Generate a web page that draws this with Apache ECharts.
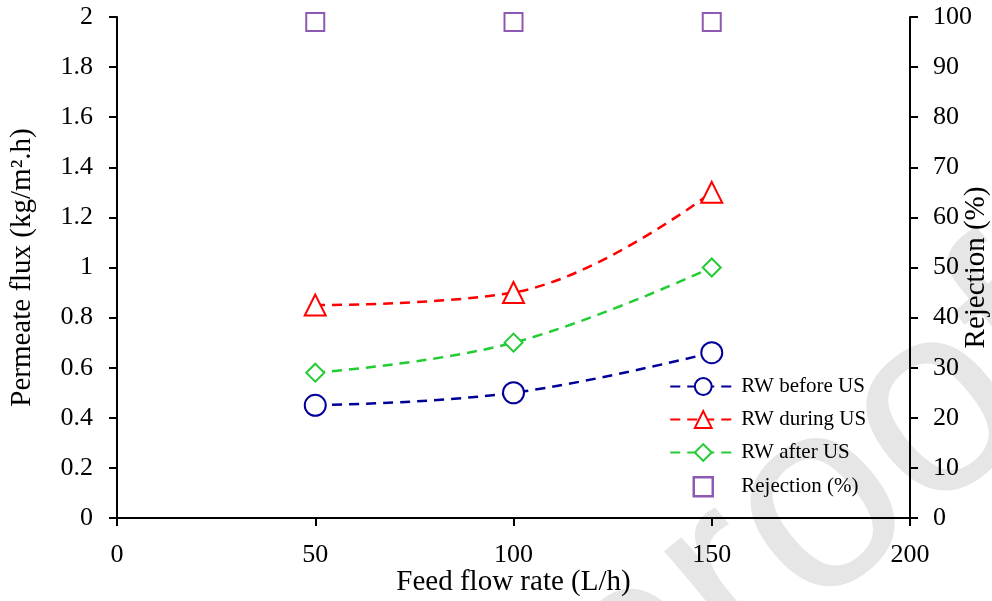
<!DOCTYPE html>
<html>
<head>
<meta charset="utf-8">
<script src="https://cdn.jsdelivr.net/npm/echarts@6/dist/echarts.min.js"></script>
<style>
  html, body { margin: 0; padding: 0; background: #ffffff; }
  #chart { width: 992px; height: 601px; }
</style>
</head>
<body>
<div id="chart"></div>
<script>
// feed flow rate (L/h)
const flowRates = [50, 100, 150];
// permeate flux (kg/m2.h)
const fluxBefore = [0.45, 0.50, 0.66];
const fluxDuring = [0.85, 0.90, 1.30];
const fluxAfter = [0.58, 0.70, 1.00];
// rejection (%)
const rejection = [99, 99, 99];

const serif = '"Liberation Serif", "Times New Roman", serif';

function toPoints(values) {
  return flowRates.map((x, i) => [x, values[i]]);
}

function fluxSeries(name, values, color, symbol, size) {
  return {
    name,
    type: 'line',
    data: toPoints(values),
    smooth: 0.4,
    symbol,
    symbolSize: size,
    showSymbol: true,
    lineStyle: { color, width: 2.5, type: [10, 7] },
    itemStyle: { color, borderColor: color, borderWidth: 2.5 },
    z: 3,
  };
}

const axisLine = { show: true, lineStyle: { color: '#000000', width: 2 } };
const axisTick = { show: true, inside: false, length: 8, lineStyle: { color: '#000000', width: 2 } };
const nameText = { fontFamily: serif, fontSize: 29, color: '#000000' };

const chart = echarts.init(document.getElementById('chart'), null, { renderer: 'canvas' });

chart.setOption({
  animation: false,
  backgroundColor: '#ffffff',
  graphic: [
    {
      type: 'text',
      x: 815,
      y: 515,
      rotation: Math.PI * 0.22,
      z: -10,
      silent: true,
      style: {
        text: 'proof',
        fill: '#e6e6e6',
        stroke: '#ffffff',
        lineWidth: 10,
        font: '270px "Liberation Sans", Arial, sans-serif',
        textAlign: 'center',
        textVerticalAlign: 'middle',
      },
    },
  ],
  grid: { left: 117, right: 82, top: 17, bottom: 83, outerBoundsMode: 'none' },
  legend: {
    orient: 'vertical',
    left: 664,
    top: 371,
    itemWidth: 66,
    itemHeight: 21,
    itemGap: 12,
    textStyle: { fontFamily: serif, fontSize: 21, lineHeight: 21, color: '#000000' },
    data: [
      'RW before US',
      'RW during US',
      'RW after US',
      {
        name: 'Rejection (%)',
        icon: 'path://M0,0L0,0M66,21L66,21M23.5,1L42.5,1L42.5,20L23.5,20Z',
        itemStyle: { color: '#ffffff', borderColor: '#7030a0', borderWidth: 2.5 },
      },
    ],
  },
  xAxis: {
    type: 'value',
    min: 0,
    max: 200,
    interval: 50,
    name: 'Feed flow rate (L/h)',
    nameLocation: 'middle',
    nameGap: 50,
    nameMoveOverlap: false,
    nameTextStyle: nameText,
    axisLine,
    axisTick,
    axisLabel: { fontFamily: serif, fontSize: 26, color: '#000000', margin: 24 },
    splitLine: { show: false },
  },
  yAxis: [
    {
      type: 'value',
      min: 0,
      max: 2,
      interval: 0.2,
      name: 'Permeate flux (kg/m\u00b2.h)',
      nameLocation: 'middle',
      nameGap: 80,
      nameRotate: 90,
      nameMoveOverlap: false,
      nameTextStyle: nameText,
      axisLine,
      axisTick,
      axisLabel: {
        fontFamily: serif,
        fontSize: 26,
        color: '#000000',
        margin: 24,
        formatter: (v) => String(Math.round(v * 10) / 10),
      },
      splitLine: { show: false },
    },
    {
      type: 'value',
      min: 0,
      max: 100,
      interval: 10,
      position: 'right',
      name: 'Rejection (%)',
      nameLocation: 'middle',
      nameGap: 52,
      nameRotate: 90,
      nameMoveOverlap: false,
      nameTextStyle: nameText,
      axisLine,
      axisTick,
      axisLabel: { fontFamily: serif, fontSize: 26, color: '#000000', margin: 23 },
      splitLine: { show: false },
    },
  ],
  series: [
    fluxSeries('RW before US', fluxBefore, '#000099', 'emptyCircle', 21),
    fluxSeries('RW during US', fluxDuring, '#ff0000', 'emptyTriangle', 21),
    fluxSeries('RW after US', fluxAfter, '#22cc33', 'emptyDiamond', 18),
    {
      name: 'Rejection (%)',
      type: 'scatter',
      yAxisIndex: 1,
      data: toPoints(rejection),
      symbol: 'emptyRect',
      symbolSize: 18,
      itemStyle: { color: '#7030a0', borderColor: '#7030a0', borderWidth: 2.5 },
      z: 3,
    },
  ],
});
</script>
</body>
</html>
